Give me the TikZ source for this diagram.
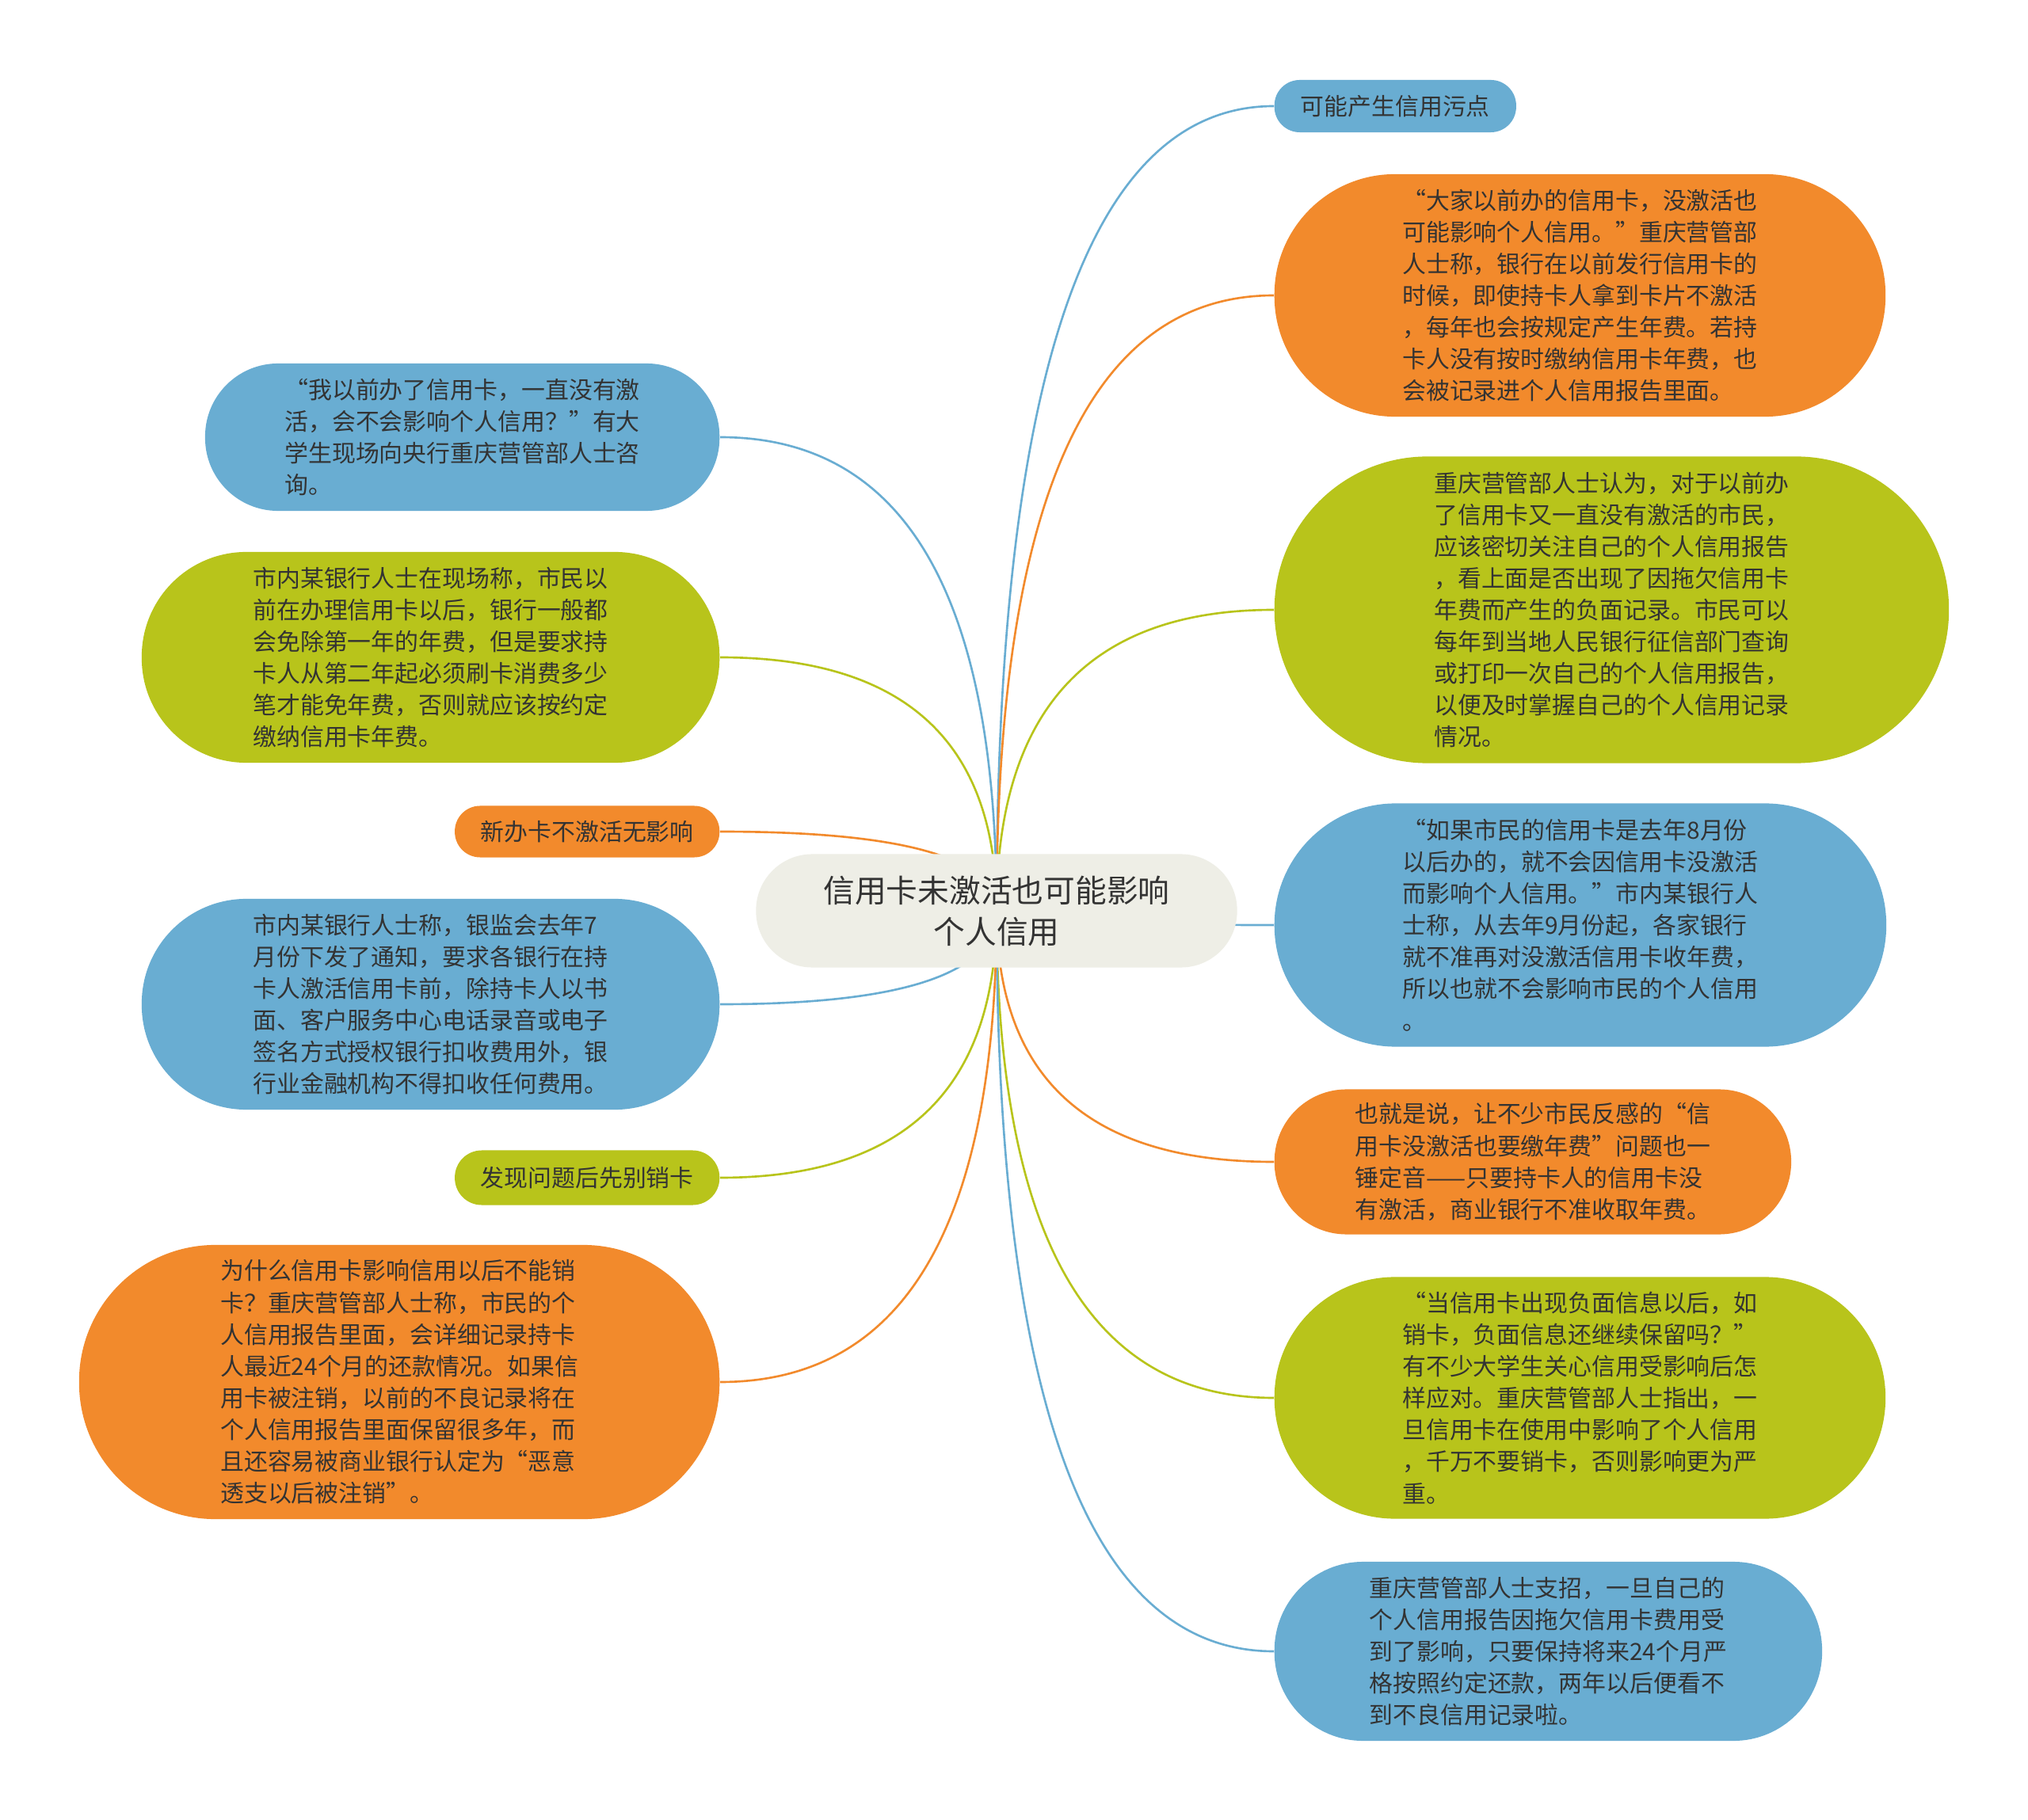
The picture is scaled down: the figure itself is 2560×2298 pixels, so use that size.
\documentclass[tikz,border=0pt]{standalone}
\usepackage{fontspec}
\setmainfont{Noto Sans CJK SC}
\usepackage{tikz}
\usetikzlibrary{calc, backgrounds}
\definecolor{cblue}{HTML}{69ADD2}
\definecolor{corange}{HTML}{F28A2C}
\definecolor{cgreen}{HTML}{B8C41B}
\definecolor{croot}{HTML}{EEEEE6}
\definecolor{ink}{HTML}{333333}
\newcommand{\leaffont}{\fontsize{8.5pt}{11.4pt}\selectfont}
\newcommand{\rootfont}{\fontsize{11.3pt}{14.8pt}\selectfont}

\begin{document}
\begin{tikzpicture}[x=0.01cm, y=-0.01cm,
  leaf/.style={rectangle, inner sep=0pt, align=left, text=ink, font=\leaffont},
  link/.style={line width=0.75pt}]
  \useasboundingbox (0,0) rectangle (2560,2298);

  \node[rectangle, inner sep=0pt, align=center, text=ink, font=\rootfont, fill=croot,
    minimum width=6.07cm, minimum height=1.43cm, rounded corners=0.71cm] (root) at (1258,1150)
    {信用卡未激活也可能影响\\个人信用};

  % right side
  \node[leaf, fill=cblue, minimum width=3.05cm, minimum height=0.66cm, rounded corners=0.32cm, anchor=west] (r1) at (1608,134)
    {可能产生信用污点};
  \node[leaf, fill=corange, minimum width=7.71cm, minimum height=3.06cm, rounded corners=1.52cm, anchor=west] (r2) at (1608,373)
    {“大家以前办的信用卡，没激活也\\
     可能影响个人信用。”重庆营管部\\
     人士称，银行在以前发行信用卡的\\
     时候，即使持卡人拿到卡片不激活\\
     ，每年也会按规定产生年费。若持\\
     卡人没有按时缴纳信用卡年费，也\\
     会被记录进个人信用报告里面。};
  \node[leaf, fill=cgreen, minimum width=8.51cm, minimum height=3.87cm, rounded corners=1.93cm, anchor=west] (r3) at (1608,770)
    {重庆营管部人士认为，对于以前办\\
     了信用卡又一直没有激活的市民，\\
     应该密切关注自己的个人信用报告\\
     ，看上面是否出现了因拖欠信用卡\\
     年费而产生的负面记录。市民可以\\
     每年到当地人民银行征信部门查询\\
     或打印一次自己的个人信用报告，\\
     以便及时掌握自己的个人信用记录\\
     情况。};
  \node[leaf, fill=cblue, minimum width=7.72cm, minimum height=3.07cm, rounded corners=1.53cm, anchor=west] (r4) at (1608,1168)
    {“如果市民的信用卡是去年8月份\\
     以后办的，就不会因信用卡没激活\\
     而影响个人信用。”市内某银行人\\
     士称，从去年9月份起，各家银行\\
     就不准再对没激活信用卡收年费，\\
     所以也就不会影响市民的个人信用\\
     。};
  \node[leaf, fill=corange, minimum width=6.52cm, minimum height=1.83cm, rounded corners=0.91cm, anchor=west] (r5) at (1608,1467)
    {也就是说，让不少市民反感的“信\\
     用卡没激活也要缴年费”问题也一\\
     锤定音——只要持卡人的信用卡没\\
     有激活，商业银行不准收取年费。};
  \node[leaf, fill=cgreen, minimum width=7.71cm, minimum height=3.05cm, rounded corners=1.52cm, anchor=west] (r6) at (1608,1765)
    {“当信用卡出现负面信息以后，如\\
     销卡，负面信息还继续保留吗？”\\
     有不少大学生关心信用受影响后怎\\
     样应对。重庆营管部人士指出，一\\
     旦信用卡在使用中影响了个人信用\\
     ，千万不要销卡，否则影响更为严\\
     重。};
  \node[leaf, fill=cblue, minimum width=6.91cm, minimum height=2.26cm, rounded corners=1.12cm, anchor=west] (r7) at (1608,2085)
    {重庆营管部人士支招，一旦自己的\\
     个人信用报告因拖欠信用卡费用受\\
     到了影响，只要保持将来24个月严\\
     格按照约定还款，两年以后便看不\\
     到不良信用记录啦。};

  % left side
  \node[leaf, fill=cblue, minimum width=6.49cm, minimum height=1.86cm, rounded corners=0.92cm, anchor=east] (l1) at (909,552)
    {“我以前办了信用卡，一直没有激\\
     活，会不会影响个人信用？”有大\\
     学生现场向央行重庆营管部人士咨\\
     询。};
  \node[leaf, fill=cgreen, minimum width=7.29cm, minimum height=2.66cm, rounded corners=1.32cm, anchor=east] (l2) at (909,830)
    {市内某银行人士在现场称，市民以\\
     前在办理信用卡以后，银行一般都\\
     会免除第一年的年费，但是要求持\\
     卡人从第二年起必须刷卡消费多少\\
     笔才能免年费，否则就应该按约定\\
     缴纳信用卡年费。};
  \node[leaf, fill=corange, minimum width=3.34cm, minimum height=0.65cm, rounded corners=0.32cm, anchor=east] (l3) at (909,1050)
    {新办卡不激活无影响};
  \node[leaf, fill=cblue, minimum width=7.29cm, minimum height=2.66cm, rounded corners=1.32cm, anchor=east] (l4) at (909,1268)
    {市内某银行人士称，银监会去年7\\
     月份下发了通知，要求各银行在持\\
     卡人激活信用卡前，除持卡人以书\\
     面、客户服务中心电话录音或电子\\
     签名方式授权银行扣收费用外，银\\
     行业金融机构不得扣收任何费用。};
  \node[leaf, fill=cgreen, minimum width=3.34cm, minimum height=0.69cm, rounded corners=0.34cm, anchor=east] (l5) at (909,1487)
    {发现问题后先别销卡};
  \node[leaf, fill=corange, minimum width=8.08cm, minimum height=3.46cm, rounded corners=1.72cm, anchor=east] (l6) at (909,1745)
    {为什么信用卡影响信用以后不能销\\
     卡？重庆营管部人士称，市民的个\\
     人信用报告里面，会详细记录持卡\\
     人最近24个月的还款情况。如果信\\
     用卡被注销，以前的不良记录将在\\
     个人信用报告里面保留很多年，而\\
     且还容易被商业银行认定为“恶意\\
     透支以后被注销”。};

  \begin{scope}[on background layer]
    \fill[white] (0,0) rectangle (2560,2298);
    \foreach \n/\a/\c in {r1/west/cblue, r2/west/corange, r3/west/cgreen, r4/west/cblue,
        r5/west/corange, r6/west/cgreen, r7/west/cblue, l1/east/cblue, l2/east/cgreen,
        l3/east/corange, l4/east/cblue, l5/east/cgreen, l6/east/corange} {
      \draw[link, \c] (root.center)
        .. controls ($(root.center)!0.667!(root.center |- \n.\a)$)
        and ($(\n.\a)!0.667!(root.center |- \n.\a)$) .. (\n.\a);
    }
  \end{scope}
\end{tikzpicture}
\end{document}
